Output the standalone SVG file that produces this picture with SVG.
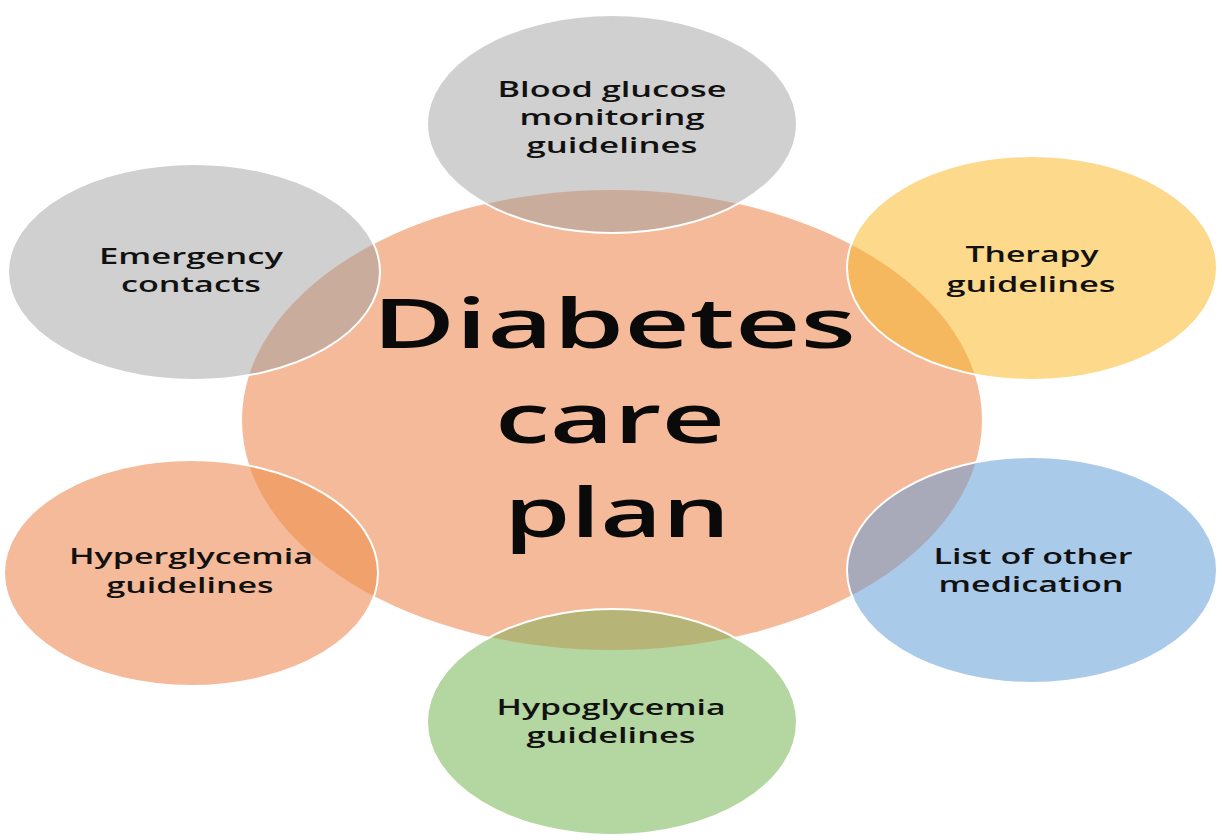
<svg xmlns="http://www.w3.org/2000/svg" width="1224" height="840" viewBox="0 0 1224 840">
<style>
.lbl{font-family:"Open Sans","Noto Sans",sans-serif;font-weight:600;font-size:21px;fill:#111;text-anchor:middle}
.big{font-family:"Open Sans","Noto Sans",sans-serif;font-weight:600;font-size:68px;fill:#0a0a0a;text-anchor:middle}
.edge{fill:none;stroke:#fff;stroke-width:2}
</style>
<defs>
<clipPath id="cc"><ellipse cx="612" cy="420" rx="370" ry="230"/></clipPath>
</defs>
<rect width="1224" height="840" fill="#fff"/>
<g id="center">
<ellipse cx="612" cy="420" rx="370" ry="230" fill="#F5BA99"/>
</g>
<g id="connectors"></g>
<g id="blood-glucose">
<ellipse cx="612" cy="124" rx="185" ry="109" fill="#D0D0D0"/>
<ellipse cx="612" cy="124" rx="185" ry="109" fill="#C9AC9C" clip-path="url(#cc)"/>
<ellipse class="edge" cx="612" cy="124" rx="185" ry="109"/>
<text class="lbl" x="612" y="97" textLength="229" lengthAdjust="spacingAndGlyphs">Blood glucose</text>
<text class="lbl" x="612" y="125" textLength="185" lengthAdjust="spacingAndGlyphs">monitoring</text>
<text class="lbl" x="612" y="153" textLength="171" lengthAdjust="spacingAndGlyphs">guidelines</text>
</g>
<g id="emergency">
<ellipse cx="194" cy="272" rx="186" ry="108" fill="#D0D0D0"/>
<ellipse cx="194" cy="272" rx="186" ry="108" fill="#C9AC9C" clip-path="url(#cc)"/>
<ellipse class="edge" cx="194" cy="272" rx="186" ry="108"/>
<text class="lbl" x="191" y="264" textLength="184" lengthAdjust="spacingAndGlyphs">Emergency</text>
<text class="lbl" x="191" y="292" textLength="140" lengthAdjust="spacingAndGlyphs">contacts</text>
</g>
<g id="therapy">
<ellipse cx="1032" cy="268" rx="185" ry="112" fill="#FDD98C"/>
<ellipse cx="1032" cy="268" rx="185" ry="112" fill="#F6B85E" clip-path="url(#cc)"/>
<ellipse class="edge" cx="1032" cy="268" rx="185" ry="112"/>
<text class="lbl" x="1032" y="262" textLength="133" lengthAdjust="spacingAndGlyphs">Therapy</text>
<text class="lbl" x="1031" y="292" textLength="169" lengthAdjust="spacingAndGlyphs">guidelines</text>
</g>
<g id="hyperglycemia">
<ellipse cx="191" cy="573" rx="187" ry="113" fill="#F5BA99"/>
<ellipse cx="191" cy="573" rx="187" ry="113" fill="#F1A16C" clip-path="url(#cc)"/>
<ellipse class="edge" cx="191" cy="573" rx="187" ry="113"/>
<text class="lbl" x="191" y="564" textLength="244" lengthAdjust="spacingAndGlyphs">Hyperglycemia</text>
<text class="lbl" x="190" y="593" textLength="167" lengthAdjust="spacingAndGlyphs">guidelines</text>
</g>
<g id="other-medication">
<ellipse cx="1032" cy="570" rx="185" ry="113" fill="#AACAEA"/>
<ellipse cx="1032" cy="570" rx="185" ry="113" fill="#A8A9B9" clip-path="url(#cc)"/>
<ellipse class="edge" cx="1032" cy="570" rx="185" ry="113"/>
<text class="lbl" x="1033" y="564" textLength="199" lengthAdjust="spacingAndGlyphs">List of other</text>
<text class="lbl" x="1031" y="592" textLength="185" lengthAdjust="spacingAndGlyphs">medication</text>
</g>
<g id="hypoglycemia">
<ellipse cx="612" cy="722" rx="185" ry="113" fill="#B4D6A0"/>
<ellipse cx="612" cy="722" rx="185" ry="113" fill="#B6B577" clip-path="url(#cc)"/>
<ellipse class="edge" cx="612" cy="722" rx="185" ry="113"/>
<text class="lbl" x="611" y="715" textLength="229" lengthAdjust="spacingAndGlyphs">Hypoglycemia</text>
<text class="lbl" x="611" y="743" textLength="169" lengthAdjust="spacingAndGlyphs">guidelines</text>
</g>
<g id="center-label">
<text class="big" x="614" y="348" textLength="484" lengthAdjust="spacingAndGlyphs">Diabetes</text>
<text class="big" x="610" y="443" textLength="230" lengthAdjust="spacingAndGlyphs">care</text>
<text class="big" x="617" y="537" textLength="226" lengthAdjust="spacingAndGlyphs">plan</text>
</g>
</svg>
